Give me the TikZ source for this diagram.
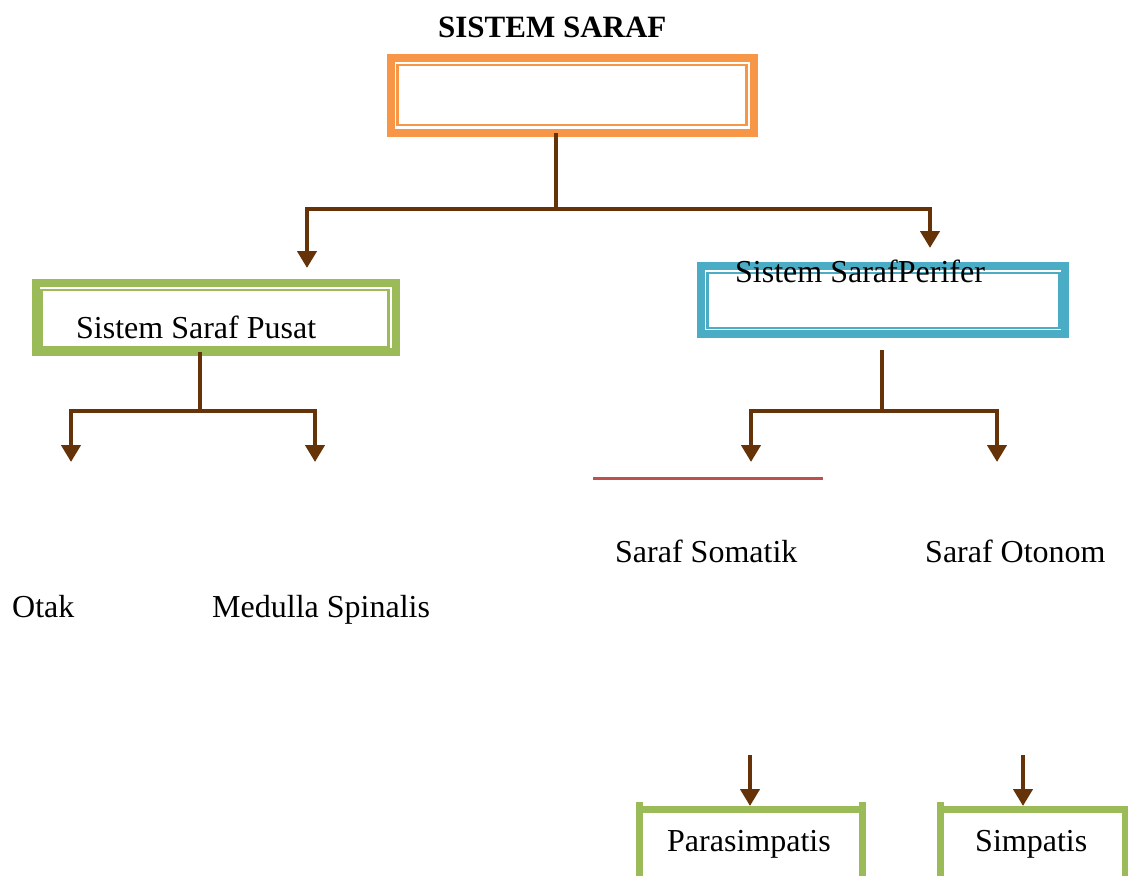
\documentclass[tikz,border=0pt]{standalone}
\usepackage{fontspec}
\setmainfont{Liberation Serif}
\usetikzlibrary{arrows.meta}
\definecolor{borange}{HTML}{F79646}
\definecolor{bgreen}{HTML}{9BBB59}
\definecolor{bblue}{HTML}{4BACC6}
\definecolor{brownarr}{RGB}{102,51,8}
\definecolor{redline}{HTML}{C0504D}
\begin{document}
\begin{tikzpicture}[x=1pt,y=-1pt,
  outerbox/.style={draw=#1, line width=8pt, rectangle, inner sep=0pt, outer sep=0pt},
  innerbox/.style={draw=#1, line width=2.2pt, rectangle, inner sep=0pt, outer sep=0pt},
  lbl/.style={inner sep=0pt, font=\fontsize{32}{38}\selectfont, anchor=base west},
  conn/.style={draw=brownarr, line width=4.5pt},
  arr/.style={draw=brownarr, line width=4.5pt, -{Triangle[width=19pt,length=17pt]}},
  openbox/.style={draw=bgreen, line width=7pt, rectangle, inner sep=0pt, outer sep=0pt},
  stub/.style={draw=bgreen, line width=7pt}
]
\clip (0,0) rectangle (1128,876);
\fill[white] (0,0) rectangle (1128,876);

% title
\node[lbl, font=\fontsize{31}{36}\selectfont\bfseries] (title) at (438,37) {SISTEM SARAF};

% top orange box
\node[outerbox=borange, minimum width=363pt, minimum height=75pt] (o) at (572.5,95.5) {};
\node[innerbox=borange, minimum width=349pt, minimum height=60pt] (oi) at (572,95) {};

% green box Pusat
\node[outerbox=bgreen, minimum width=360pt, minimum height=69pt] (pb) at (216,317.5) {};
\node[innerbox=bgreen, minimum width=347pt, minimum height=57pt] (pbi) at (215,318.5) {};
\node[lbl] (pusat) at (76,338) {Sistem Saraf Pusat};

% blue box Perifer
\node[outerbox=bblue, minimum width=364pt, minimum height=68pt] (bb) at (883,300) {};
\node[innerbox=bblue, minimum width=352pt, minimum height=55pt] (bbi) at (883.5,300.5) {};
\node[lbl] (perifer) at (735,282) {Sistem SarafPerifer};

% connectors from top
\coordinate (j1) at (556,209);
\coordinate (aL) at (307,209);
\coordinate (aR) at (930,209);
\coordinate (tL) at (307,268);
\coordinate (tR) at (930,248);
\draw[conn] (o.south -| j1) -- (j1);
\draw[arr] (j1) -- (aL) -- (tL);
\draw[arr] (j1) -- (aR) -- (tR);

% Pusat branches
\coordinate (j2) at (200,411);
\coordinate (b2L) at (71,411);
\coordinate (b2R) at (315,411);
\coordinate (t2L) at (71,462);
\coordinate (t2R) at (315,462);
\draw[conn] (pb.south -| j2) -- (j2);
\draw[arr] (j2) -- (b2L) -- (t2L);
\draw[arr] (j2) -- (b2R) -- (t2R);

% Perifer branches
\coordinate (s3) at (882,350);
\coordinate (j3) at (882,411);
\coordinate (b3L) at (751,411);
\coordinate (b3R) at (997,411);
\coordinate (t3L) at (751,462);
\coordinate (t3R) at (997,462);
\draw[conn] (s3) -- (j3);
\draw[arr] (j3) -- (b3L) -- (t3L);
\draw[arr] (j3) -- (b3R) -- (t3R);

% red line
\coordinate (r1) at (593,478);
\coordinate (r2) at (823,478);
\draw[draw=redline, line width=3pt] (r1) -- (r2);

% labels
\node[lbl] (somatik) at (615,562) {Saraf Somatik};
\node[lbl] (otonom) at (925,562) {Saraf Otonom};
\node[lbl] (otak) at (12,617) {Otak};
\node[lbl] (medulla) at (212,617) {Medulla Spinalis};

% bottom boxes (open at bottom edge)
\node[openbox, minimum width=223pt, minimum height=120pt, anchor=north] (parabox) at (750.5,809) {};
\node[openbox, minimum width=185pt, minimum height=120pt, anchor=north] (simbox) at (1032.5,809) {};
\draw[stub] (parabox.north west) -- ++(0,-7);
\draw[stub] (parabox.north east) -- ++(0,-7);
\draw[stub] (simbox.north west) -- ++(0,-7);
\node[lbl] (para) at (667,851) {Parasimpatis};
\node[lbl] (simp) at (975,851) {Simpatis};

\coordinate (p0) at (750,755);
\coordinate (q0) at (1023,755);
\draw[arr] (p0) -- ([yshift=3pt]parabox.north -| p0);
\draw[arr] (q0) -- ([yshift=3pt]simbox.north -| q0);
\end{tikzpicture}
\end{document}
